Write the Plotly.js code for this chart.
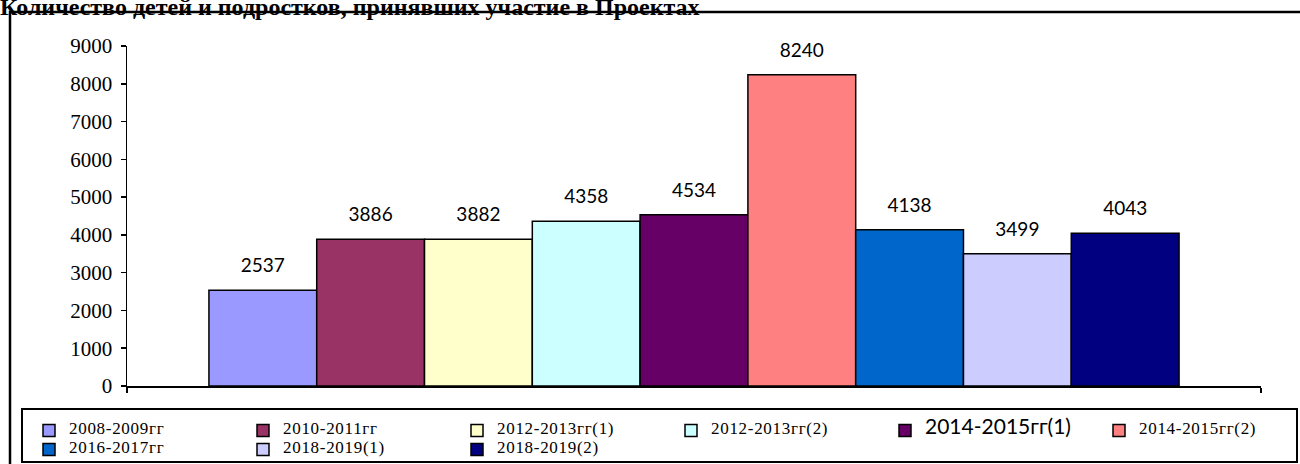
<!DOCTYPE html>
<html>
<head>
<meta charset="utf-8">
<script src="https://cdn.plot.ly/plotly-3.0.1.min.js"></script>
<style>html,body{margin:0;padding:0;background:#fff;}#chart{width:1300px;height:464px;}</style>
</head>
<body>
<div id="chart"></div>
<script>
const chartTitle = 'Количество детей и подростков, принявших участие в Проектах';
const category = ['Проекты'];
const seriesNames = ['2008-2009гг','2010-2011гг','2012-2013гг(1)','2012-2013гг(2)','2014-2015гг(1)','2014-2015гг(2)','2016-2017гг','2018-2019(1)','2018-2019(2)'];
const seriesValues = [2537, 3886, 3882, 4358, 4534, 8240, 4138, 3499, 4043];
const seriesColors = ['#9999FF','#993366','#FFFFCC','#CCFFFF','#660066','#FF8080','#0066CC','#CCCCFF','#000080'];
const yTickVals = [0,1000,2000,3000,4000,5000,6000,7000,8000,9000];

const serif = '"Liberation Serif", "Times New Roman", serif';
const traces = seriesNames.map((name, i) => ({
  type: 'bar',
  x: category,
  y: [seriesValues[i]],
  name: (i === 4)
    ? '<span style="font-family:Lato;font-size:21px">' + name + '</span>'
    : '<span style="font-size:17px;letter-spacing:0.7px">' + name + '</span>',
  legend: (i === 5) ? 'legend2' : 'legend',
  marker: {color: seriesColors[i], line: {color: '#000', width: 1.5}},
  text: [String(seriesValues[i])],
  texttemplate: '<span style="font-size:19px">%{text}</span><br> ',
  textposition: 'outside',
  constraintext: 'none',
  cliponaxis: false,
  textfont: {family: 'Lato, sans-serif', size: 10, color: '#000'},
  hoverinfo: 'name+y'
}));

// plot area: x 127..1261, y 46..386
const px = v => (v - 127) / 1134;
const py = v => (386 - v) / 340;

const legendCommon = {
  orientation: 'h',
  xanchor: 'left',
  y: py(416), yanchor: 'top',
  font: {family: serif, size: 10, color: '#000'},
  entrywidth: 169,
  traceorder: 'normal',
  borderwidth: 0,
  bgcolor: 'rgba(0,0,0,0)'
};

const layout = {
  width: 1300, height: 464,
  paper_bgcolor: '#fff', plot_bgcolor: '#fff',
  margin: {l: 127, r: 39, t: 46, b: 78, autoexpand: false},
  title: {
    text: chartTitle,
    font: {family: serif, size: 24, color: '#000', weight: 'bold'},
    x: 0, xref: 'container', xanchor: 'left',
    y: 1 - 7 / 464, yref: 'container', yanchor: 'middle',
    pad: {l: 0, r: 0, t: 0, b: 0}
  },
  barmode: 'group',
  bargap: 0.1445,
  bargroupgap: 0,
  showlegend: true,
  xaxis: {
    type: 'category',
    showline: true, linecolor: '#000', linewidth: 1.5,
    ticks: 'outside', tickson: 'boundaries', ticklen: 5, tickcolor: '#000', tickwidth: 1.5,
    showticklabels: false, showgrid: false, zeroline: false,
    fixedrange: true
  },
  yaxis: {
    range: [0, 9000],
    tickmode: 'array', tickvals: yTickVals,
    showline: true, linecolor: '#000', linewidth: 1.5,
    ticks: 'outside', ticklen: 5, tickcolor: '#000', tickwidth: 1.5,
    ticklabelstandoff: 4,
    tickfont: {family: serif, size: 21, color: '#000'},
    showgrid: false, zeroline: false,
    fixedrange: true
  },
  legend: Object.assign({}, legendCommon, {x: px(29)}),
  legend2: Object.assign({}, legendCommon, {x: px(29 + 5 * 214)}),
  shapes: [
    {type: 'rect', xref: 'paper', yref: 'paper', x0: px(10), x1: px(1302), y0: py(468), y1: py(12),
     line: {color: '#000', width: 2.5}, fillcolor: 'rgba(0,0,0,0)', layer: 'below'},
    {type: 'rect', xref: 'paper', yref: 'paper', x0: px(22), x1: px(1297), y0: py(462), y1: py(409),
     line: {color: '#000', width: 2}, fillcolor: 'rgba(0,0,0,0)', layer: 'below'}
  ]
};

Plotly.newPlot('chart', traces, layout, {displayModeBar: false, staticPlot: true});
</script>
</body>
</html>
